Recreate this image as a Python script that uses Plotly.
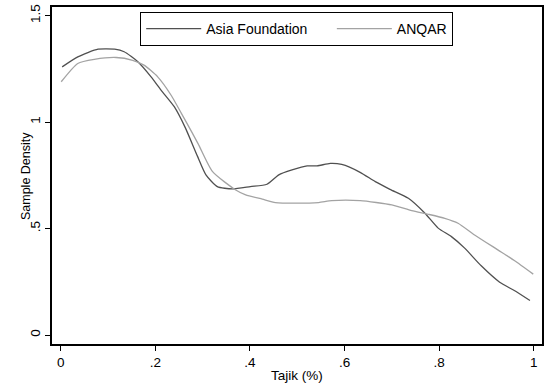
import plotly.graph_objects as go

# Asia Foundation density (dark line)
af_x = [0.003, 0.036, 0.079, 0.114, 0.134, 0.163, 0.191, 0.212, 0.240, 0.263, 0.289, 0.307,
        0.331, 0.363, 0.401, 0.436, 0.461, 0.489, 0.521, 0.542, 0.570, 0.594, 0.633, 0.665,
        0.696, 0.735, 0.770, 0.798, 0.826, 0.854, 0.889, 0.928, 0.959, 0.992]
af_y = [1.259, 1.306, 1.342, 1.342, 1.330, 1.283, 1.212, 1.150, 1.072, 0.975, 0.840, 0.752,
        0.697, 0.686, 0.697, 0.708, 0.752, 0.775, 0.794, 0.794, 0.806, 0.801, 0.764, 0.720,
        0.684, 0.642, 0.572, 0.502, 0.462, 0.408, 0.325, 0.248, 0.209, 0.162]

# ANQAR density (light line)
an_x = [0.001, 0.036, 0.071, 0.117, 0.152, 0.176, 0.205, 0.233, 0.261, 0.290, 0.321, 0.370,
        0.391, 0.426, 0.454, 0.496, 0.545, 0.573, 0.633, 0.700, 0.742, 0.777, 0.812, 0.840,
        0.875, 0.924, 0.959, 0.999]
an_y = [1.189, 1.275, 1.294, 1.303, 1.290, 1.267, 1.212, 1.127, 1.017, 0.900, 0.767, 0.681,
        0.658, 0.638, 0.622, 0.619, 0.622, 0.631, 0.631, 0.611, 0.584, 0.567, 0.548, 0.525,
        0.470, 0.400, 0.350, 0.286]

x_ticks = [0, 0.2, 0.4, 0.6, 0.8, 1]
x_labels = ["0", ".2", ".4", ".6", ".8", "1"]
y_ticks = [0, 0.5, 1, 1.5]
y_labels = ["0", ".5", "1", "1.5"]

font_family = "Liberation Sans, Arial, Helvetica, sans-serif"
pad = "\u00a0" * 5

fig = go.Figure()
fig.add_trace(go.Scatter(x=af_x, y=af_y, mode="lines", name="Asia Foundation" + pad,
                         line=dict(color="#505050", width=1.3, shape="spline", smoothing=0.6)))
fig.add_trace(go.Scatter(x=an_x, y=an_y, mode="lines", name="ANQAR",
                         line=dict(color="#a3a3a3", width=1.3, shape="spline", smoothing=0.6)))

fig.update_layout(
    width=547, height=387,
    margin=dict(l=52, r=3, t=7, b=43),
    paper_bgcolor="white", plot_bgcolor="white",
    font=dict(family=font_family, size=13.5, color="black"),
    showlegend=True,
    legend=dict(orientation="h", x=0.18, y=0.985, xanchor="left", yanchor="top",
                bordercolor="black", borderwidth=1, bgcolor="white",
                font=dict(size=14), itemwidth=55, tracegroupgap=0),
    annotations=[dict(text="Sample Density", textangle=-90, xref="paper", yref="paper",
                      x=-0.054, y=0.497, xanchor="center", yanchor="middle",
                      showarrow=False, font=dict(size=12.5))],
)
fig.update_xaxes(range=[-0.0185, 1.0175], tickvals=x_ticks, ticktext=x_labels,
                 showgrid=False, zeroline=False, showline=True, linecolor="black", linewidth=1.5,
                 mirror=True, ticks="outside", ticklen=5, tickcolor="black",
                 title=dict(text="Tajik (%)", standoff=2, font=dict(size=13.5)))
fig.update_yaxes(range=[-0.042, 1.54], tickvals=y_ticks, ticktext=y_labels, tickangle=-90,
                 showgrid=False, zeroline=False, showline=True, linecolor="black", linewidth=1.5,
                 mirror=True, ticks="outside", ticklen=5, tickcolor="black")

fig.write_html("out.html")
